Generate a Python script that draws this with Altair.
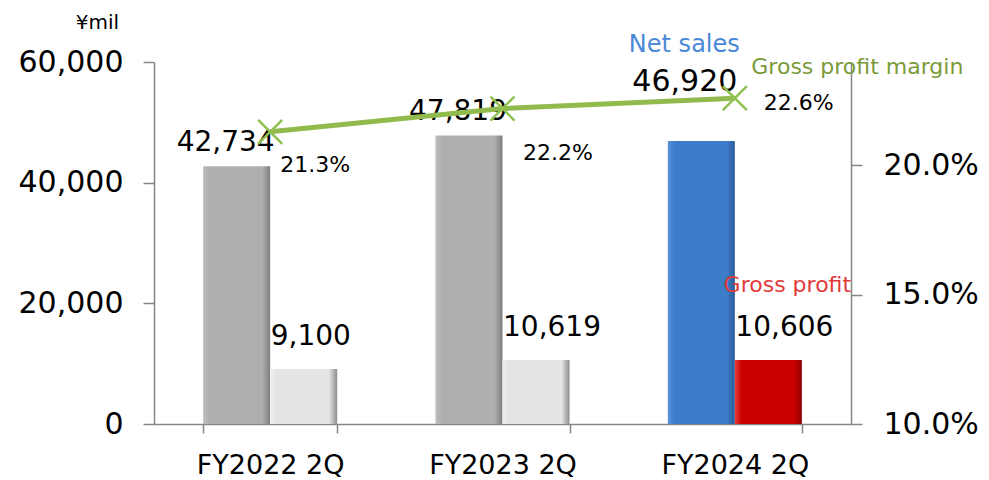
import altair as alt
import pandas as pd

# ---- data ----
periods = ["FY2022 2Q", "FY2023 2Q", "FY2024 2Q"]
net_sales = [42734, 47819, 46920]
gross_profit = [9100, 10619, 10606]
gross_margin = [21.3, 22.2, 22.6]
sales_labels = ["42,734", "47,819", "46,920"]
profit_labels = ["9,100", "10,619", "10,606"]
margin_labels = ["21.3%", "22.2%", "22.6%"]
left_ticks = [0, 20000, 40000, 60000]
right_ticks = [10, 15, 20]

FONT = "DejaVu Sans"

bars = pd.DataFrame({
    "period": periods * 2,
    "series": ["Net sales"] * 3 + ["Gross profit"] * 3,
    "value": net_sales + gross_profit,
    "label": sales_labels + profit_labels,
    "current": [False, False, True] * 2,
})
margin = pd.DataFrame({"period": periods, "margin": gross_margin, "label": margin_labels})

x_scale = alt.Scale(domain=periods, paddingInner=0.423, paddingOuter=0.2115)
off_scale = alt.Scale(domain=["Net sales", "Gross profit"], paddingInner=0, paddingOuter=0)
y_left = alt.Scale(domain=[0, 60000], nice=False, zero=True)
y_right = alt.Scale(domain=[10, 24], nice=False, zero=False)

x_axis = alt.Axis(title=None, labelFontSize=27, labelFont=FONT, labelColor="#000000",
                  labelAngle=0, tickBand="extent", tickSize=9, tickColor="#868686",
                  tickWidth=1.5, domainColor="#868686", domainWidth=1.5,
                  labelPadding=19, labelBaseline="top", grid=False)
left_axis = alt.Axis(orient="left", values=left_ticks,
                     labelExpr="format(datum.value, ',d')",
                     labelFontSize=30, labelFont=FONT,
                     labelColor="#000000", tickSize=11, tickColor="#868686", tickWidth=1.5,
                     domainColor="#868686", domainWidth=1.5, labelPadding=20, grid=False,
                     title="¥mil", titleAngle=0, titleFont=FONT, titleFontSize=20,
                     titleFontWeight="normal", titleColor="#000000", titleAlign="center",
                     titleBaseline="alphabetic", titleX=-57, titleY=-34)
right_axis = alt.Axis(orient="right", values=right_ticks,
                      labelExpr="format(datum.value, '.1f') + '%'",
                      labelFontSize=30, labelFont=FONT, labelColor="#000000",
                      tickSize=11, tickColor="#868686", tickWidth=1.5,
                      domainColor="#868686", domainWidth=1.5, labelPadding=21,
                      grid=False, title=None)

x_enc = alt.X("period:N", scale=x_scale, sort=periods, axis=x_axis)
y_bar = alt.Y("value:Q", scale=y_left, axis=left_axis)
y_pct = alt.Y("margin:Q", scale=y_right, axis=right_axis)


def grad(edge_l, body, edge_r):
    return alt.LinearGradient(
        gradient="linear", x1=0, x2=1, y1=0, y2=0,
        stops=[alt.GradientStop(color=edge_l, offset=0),
               alt.GradientStop(color=body, offset=0.1),
               alt.GradientStop(color=body, offset=0.88),
               alt.GradientStop(color=edge_r, offset=1)])


base_bar = alt.Chart(bars).encode(
    x=x_enc,
    y=y_bar,
    xOffset=alt.XOffset("series:N", scale=off_scale, sort=["Net sales", "Gross profit"]),
)

bar_styles = [
    ("Net sales", False, grad("#bdbdbd", "#afafaf", "#7d7d7d")),
    ("Gross profit", False, grad("#f0f0f0", "#e4e4e4", "#8c8c8c")),
    ("Net sales", True, grad("#5c95dc", "#3d7cc9", "#2a5a98")),
    ("Gross profit", True, grad("#e83a3a", "#cc0000", "#8f0000")),
]
bar_layers = []
for s, cur, g in bar_styles:
    bar_layers.append(
        base_bar.transform_filter(
            (alt.datum.series == s) & (alt.datum.current == cur)
        ).mark_bar(color=g)
    )

sales_text = base_bar.transform_filter(
    (alt.datum.series == "Net sales") & (alt.datum.current == False)
).mark_text(font=FONT, fontSize=28, align="right", baseline="alphabetic", dx=38, dy=-15,
            color="#000000").encode(text="label:N")

sales_text_cur = base_bar.transform_filter(
    (alt.datum.series == "Net sales") & (alt.datum.current == True)
).mark_text(font=FONT, fontSize=30, align="right", baseline="alphabetic", dx=36, dy=-50,
            color="#000000").encode(text="label:N")

net_sales_tag = base_bar.transform_filter(
    (alt.datum.series == "Net sales") & (alt.datum.current == True)
).mark_text(font=FONT, fontSize=24, align="center", baseline="alphabetic", dx=-17, dy=-89,
            color="#4a88d8", text="Net sales")

profit_text = base_bar.transform_filter(
    alt.datum.series == "Gross profit"
).mark_text(font=FONT, fontSize=28, align="left", baseline="alphabetic", dx=-33, dy=-24,
            color="#000000").encode(text="label:N")

gross_profit_tag = base_bar.transform_filter(
    (alt.datum.series == "Gross profit") & (alt.datum.current == True)
).mark_text(font=FONT, fontSize=22, align="center", baseline="alphabetic", dx=19, dy=-68,
            color="#e03a3a", text="Gross profit")

left_layer = alt.layer(*bar_layers, sales_text, sales_text_cur, net_sales_tag,
                       profit_text, gross_profit_tag)

base_line = alt.Chart(margin).encode(x=x_enc, y=y_pct)

line = base_line.mark_line(color="#92bb4e", strokeWidth=5)
markers = base_line.mark_point(shape="M-1,-1L1,1M-1,1L1,-1", size=576, filled=False,
                               stroke="#8fc050", strokeWidth=2.5, opacity=1)

pct_offsets = [(10, 40), (20.5, 51.5), (29, 12)]
pct_layers = []
for p, (dx, dy) in zip(periods, pct_offsets):
    pct_layers.append(
        base_line.transform_filter(alt.datum.period == p).mark_text(
            font=FONT, fontSize=22, align="left", baseline="alphabetic", dx=dx, dy=dy,
            color="#000000").encode(text="label:N")
    )

margin_tag = base_line.transform_filter(alt.datum.period == periods[2]).mark_text(
    font=FONT, fontSize=22, align="center", baseline="alphabetic", dx=122.5, dy=-24,
    color="#7a9a3a", text="Gross profit margin")

right_layer = alt.layer(line, markers, *pct_layers, margin_tag)

chart = alt.layer(left_layer, right_layer).resolve_scale(y="independent").properties(
    width=697, height=362,
    autosize=alt.AutoSizeParams(type="none"),
    padding={"left": 146, "top": 54, "right": 130, "bottom": 56},
    background="#ffffff",
).configure_view(stroke=None)

chart.save("out.html", embed_options={"renderer": "svg", "actions": False})
